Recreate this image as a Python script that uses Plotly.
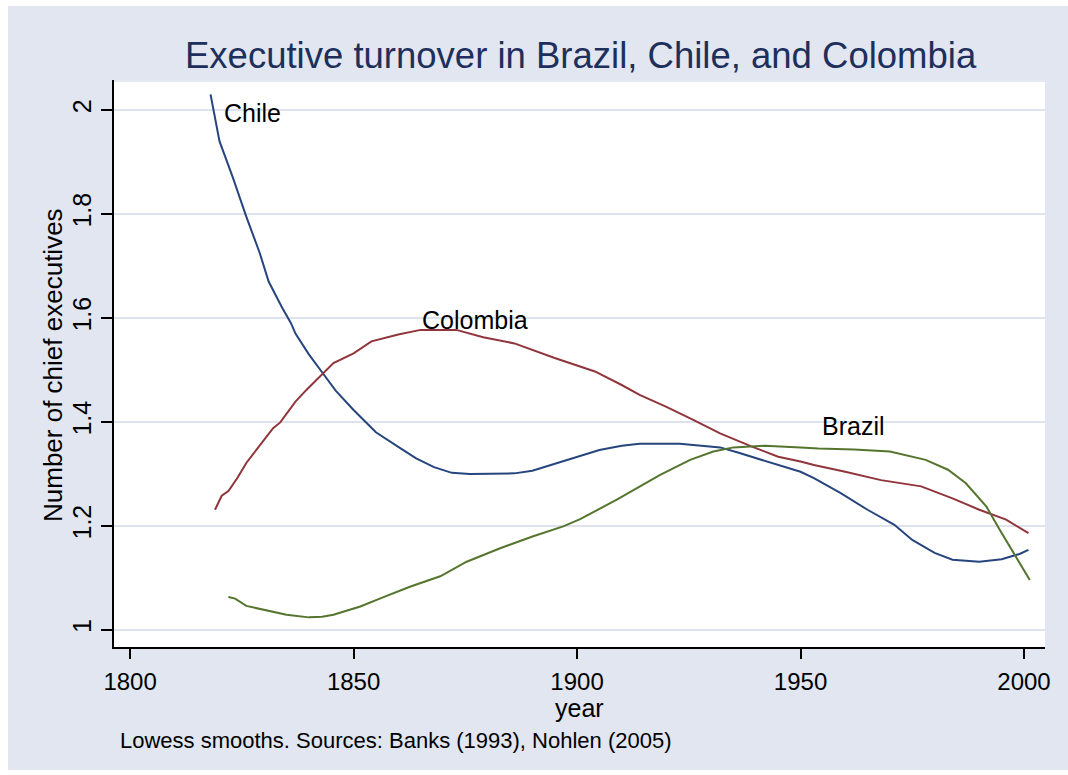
import plotly.graph_objects as go

# Lowess-smoothed number of chief executives by year
chile_year = [1818, 1820, 1823, 1826, 1829, 1831, 1834, 1836, 1837, 1840, 1843, 1846,
              1850, 1855, 1860, 1864, 1868, 1872, 1876, 1880, 1886, 1890, 1893, 1899,
              1905, 1910, 1914, 1923, 1928, 1932, 1936, 1939, 1945, 1950, 1953, 1959,
              1965, 1971, 1975, 1980, 1984, 1990, 1995, 1999, 2001]
chile_val = [2.030, 1.940, 1.870, 1.795, 1.725, 1.670, 1.620, 1.590, 1.570, 1.530, 1.495, 1.460,
             1.423, 1.380, 1.352, 1.330, 1.313, 1.302, 1.300, 1.300, 1.301, 1.306, 1.314, 1.331,
             1.346, 1.354, 1.358, 1.358, 1.354, 1.351, 1.341, 1.333, 1.317, 1.304, 1.292, 1.263,
             1.231, 1.202, 1.173, 1.148, 1.135, 1.131, 1.136, 1.146, 1.154]

colombia_year = [1819, 1820.5, 1822, 1824, 1826, 1828, 1830, 1832, 1833.6, 1836, 1837, 1839.5,
                 1841.4, 1845.5, 1850, 1854, 1860, 1865, 1873, 1879, 1886, 1895, 1904, 1910,
                 1914, 1920, 1926, 1932, 1939, 1945, 1950, 1953, 1960, 1968, 1977, 1984,
                 1990, 1996, 2001]
colombia_val = [1.231, 1.258, 1.267, 1.292, 1.321, 1.343, 1.365, 1.388, 1.399, 1.426, 1.439, 1.462,
                1.478, 1.513, 1.532, 1.555, 1.568, 1.577, 1.577, 1.563, 1.551, 1.523, 1.497, 1.471,
                1.452, 1.429, 1.404, 1.378, 1.353, 1.333, 1.324, 1.317, 1.304, 1.288, 1.276, 1.253,
                1.231, 1.212, 1.186]

brazil_year = [1822, 1823.5, 1826, 1830.6, 1835, 1840, 1843, 1845.5, 1851.5, 1856.7, 1862.6,
               1869.4, 1875.3, 1882.8, 1890.2, 1896.9, 1900.7, 1908.8, 1918.6, 1925.3, 1930.5,
               1935, 1942, 1950, 1954, 1962, 1970, 1978, 1983, 1987, 1991.6, 1994.6, 1997.6,
               2001.3]
brazil_val = [1.063, 1.060, 1.046, 1.038, 1.029, 1.024, 1.025, 1.029, 1.045, 1.063, 1.083,
              1.103, 1.131, 1.157, 1.180, 1.199, 1.213, 1.250, 1.298, 1.327, 1.343,
              1.351, 1.354, 1.351, 1.349, 1.347, 1.343, 1.327, 1.308, 1.282, 1.237, 1.192, 1.148,
              1.096]

x_ticks = [1800, 1850, 1900, 1950, 2000]
y_ticks = [1, 1.2, 1.4, 1.6, 1.8, 2]
y_tick_text = ["1", "1.2", "1.4", "1.6", "1.8", "2"]

NAVY = "#26457E"
MAROON = "#90353B"
GREEN = "#55752F"
BG = "#E1E6F0"
GRID = "#DDE2EE"
FONT = "Liberation Sans, Arial, sans-serif"

fig = go.Figure()
for xs, ys, col in [(chile_year, chile_val, NAVY),
                    (colombia_year, colombia_val, MAROON),
                    (brazil_year, brazil_val, GREEN)]:
    fig.add_trace(go.Scatter(x=xs, y=ys, mode="lines",
                             line=dict(color=col, width=2), showlegend=False,
                             hoverinfo="skip"))

# series labels placed beside the curves
labels = [("Chile", 1820.6, 1.994), ("Colombia", 1864.9, 1.596), ("Brazil", 1954.4, 1.392)]
annotations = [dict(text=t, x=x, y=y, xref="x", yref="y", xanchor="left", yanchor="middle",
                    showarrow=False, font=dict(size=25, color="black", family=FONT))
               for t, x, y in labels]

W, H = 1068, 775
L, R, T, B = 114, 1045, 80, 647
pw, ph = R - L, B - T


def px(xp):
    return (xp - L) / pw


def py(yp):
    return (B - yp) / ph


annotations += [
    dict(text="year", x=px((L + R) / 2), y=py(708), xref="paper", yref="paper",
         xanchor="center", yanchor="middle", showarrow=False,
         font=dict(size=25, color="black", family=FONT)),
    dict(text="Number of chief executives", x=px(53), y=py(365), xref="paper", yref="paper",
         xanchor="center", yanchor="middle", textangle=-90, showarrow=False,
         font=dict(size=26, color="black", family=FONT)),
    dict(text="Lowess smooths. Sources: Banks (1993), Nohlen (2005)", x=px(118), y=py(740),
         xref="paper", yref="paper", xanchor="left", yanchor="middle", showarrow=False,
         font=dict(size=22, color="black", family=FONT)),
    dict(text="Executive turnover in Brazil, Chile, and Colombia", x=px(581), y=py(55),
         xref="paper", yref="paper", xanchor="center", yanchor="middle", showarrow=False,
         font=dict(size=36.5, color="#1E2F5C", family=FONT)),
]

shapes = [
    # thin white frame around the graph region
    dict(type="rect", xref="paper", yref="paper", x0=px(0), x1=px(8), y0=py(H), y1=py(0),
         fillcolor="white", line=dict(width=0), layer="below"),
    dict(type="rect", xref="paper", yref="paper", x0=px(0), x1=px(W), y0=py(6), y1=py(0),
         fillcolor="white", line=dict(width=0), layer="below"),
    dict(type="rect", xref="paper", yref="paper", x0=px(0), x1=px(W), y0=py(H), y1=py(770),
         fillcolor="white", line=dict(width=0), layer="below"),
    # plot region top edge
    dict(type="line", xref="paper", yref="paper", x0=0, x1=1, y0=py(81), y1=py(81),
         line=dict(color=GRID, width=1.5), layer="below"),
]

fig.update_layout(
    width=W, height=H,
    margin=dict(l=L, r=W - R, t=T, b=H - B, pad=0),
    paper_bgcolor=BG, plot_bgcolor="white",
    font=dict(family=FONT, color="black"),
    annotations=annotations, shapes=shapes,
    xaxis=dict(range=[1796.4, 2004.7], tickvals=x_ticks, ticks="outside", ticklen=10,
               tickwidth=2, tickcolor="black", showline=True, linecolor="black", linewidth=2,
               showgrid=False, zeroline=False, tickfont=dict(size=24, color="black"),
               ticklabelstandoff=2),
    yaxis=dict(range=[0.967, 2.0577], tickvals=y_ticks, ticktext=y_tick_text, ticks="outside",
               ticklen=11, tickwidth=2, tickcolor="black", showline=True, linecolor="black",
               linewidth=2, showgrid=True, gridcolor=GRID, gridwidth=1.5, zeroline=False,
               tickangle=-90, tickfont=dict(size=25, color="black")),
)

fig.write_html("out.html")
